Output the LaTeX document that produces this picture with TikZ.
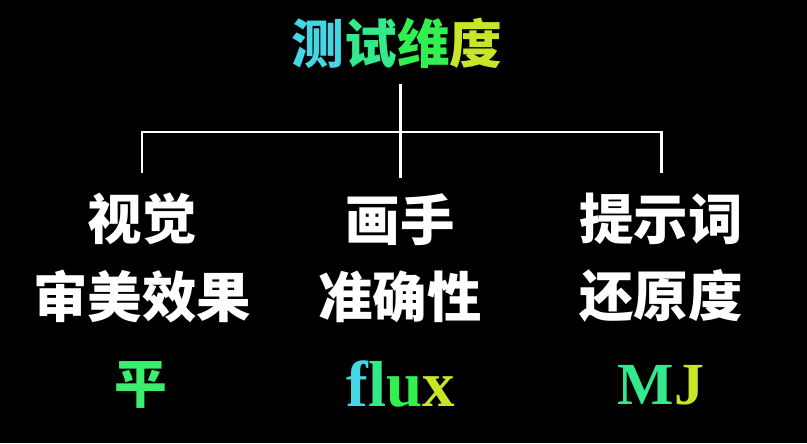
\documentclass[tikz,border=0pt]{standalone}
\usepackage{fontspec}
\usetikzlibrary{positioning}
\newfontfamily\cjkfont{Noto Sans CJK SC}
\newfontfamily\latinfont{Liberation Serif}
\definecolor{dimCyan}{RGB}{68,214,226}
\definecolor{dimTeal}{RGB}{52,232,140}
\definecolor{dimGreen}{RGB}{50,240,80}
\definecolor{dimSpring}{RGB}{60,238,110}
\definecolor{dimLime}{RGB}{200,230,40}

\begin{document}
\begin{tikzpicture}[x=0.02cm, y=-0.02cm,
  % ── heading ──
  topic/.style={inner sep=0pt, font=\cjkfont\bfseries\fontsize{30}{36}\selectfont},
  % ── the three test facets ──
  facet/.style={inner sep=0pt, text=white, align=center,
                font=\cjkfont\bfseries\fontsize{31}{44}\selectfont},
  % ── winner under each facet ──
  verdict/.style={inner sep=0pt, font=\latinfont\bfseries\fontsize{34}{36}\selectfont},
  cjkverdict/.style={inner sep=0pt, font=\cjkfont\bfseries\fontsize{30}{36}\selectfont},
  % ── tree lines ──
  branch/.style={white, line width=1.7pt},
]

%% ─── background & frame ────────────────────────────────────────
\fill[black] (0,0) rectangle (807,443);
\useasboundingbox (0,0) rectangle (807,443);

%% ─── 1. Heading ────────────────────────────────────────────────
\node[topic] (title) at (397,43)
  {\textcolor{dimCyan}{测}\textcolor{dimTeal}{试}\textcolor{dimGreen}{维}\textcolor{dimLime}{度}};

%% ─── 2. Facets ─────────────────────────────────────────────────
\node[facet] (visual) at (142,258) {视觉\\审美效果};
\node[facet] (hand)   at (400,258) {画手\\准确性};
\node[facet] (prompt) at (661,258) {提示词\\还原度};

%% ─── 3. Tree ───────────────────────────────────────────────────
\coordinate (hub) at (400,132);
% stem straight down from the heading through the hub
\draw[branch, shorten <=0.3cm, shorten >=0.3cm] (title.south -| hand.north) -- (hand.north);
\draw[branch, shorten <=0.4cm, shorten >=0.4cm] (visual.north) |- (hub) -| (prompt.north);

%% ─── 4. Verdicts ───────────────────────────────────────────────
\node[cjkverdict] (vwin) at (141,385) {\textcolor{dimSpring}{平}};
\node[verdict, font=\latinfont\bfseries\fontsize{37}{40}\selectfont] (hwin) at (401,384)
  {\textcolor{dimCyan}{f}\textcolor{dimTeal}{l}\textcolor{dimGreen}{u}\textcolor{dimLime}{x}};
\node[verdict]    (pwin) at (661,385) {\textcolor{dimTeal}{M}\textcolor{dimLime}{J}};

\end{tikzpicture}
\end{document}
